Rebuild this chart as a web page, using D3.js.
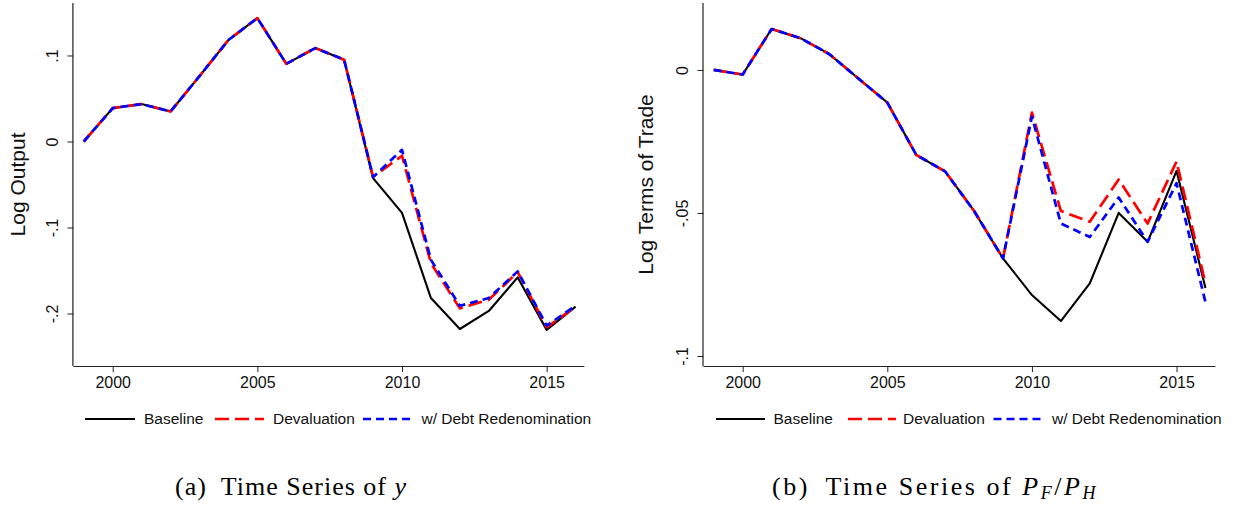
<!DOCTYPE html>
<html>
<head>
<meta charset="utf-8">
<script src="https://cdn.jsdelivr.net/npm/d3@7"></script>
<style>
  html, body { margin: 0; padding: 0; background: #fff; }
  svg { display: block; }
</style>
</head>
<body>
<svg id="chart" width="1236" height="506"></svg>
<script>
// Years on the horizontal axis
const years = [1999, 2000, 2001, 2002, 2003, 2004, 2005, 2006, 2007, 2008,
               2009, 2010, 2011, 2012, 2013, 2014, 2015, 2016];

// Panel (a): log output
const outputBaseline = [0, 0.0388, 0.0435, 0.0349, 0.076, 0.118, 0.1435, 0.0903, 0.1086, 0.095,
                        -0.0426, -0.0830, -0.182, -0.218, -0.197, -0.158, -0.219, -0.192];
const outputDevaluation = [0, 0.0388, 0.0435, 0.0349, 0.076, 0.118, 0.1435, 0.0903, 0.1086, 0.095,
                           -0.0410, -0.0166, -0.1415, -0.194, -0.184, -0.152, -0.216, -0.192];
const outputRedenomination = [0, 0.0388, 0.0435, 0.0349, 0.076, 0.118, 0.1435, 0.0903, 0.1086, 0.095,
                              -0.0414, -0.0097, -0.1376, -0.191, -0.182, -0.151, -0.214, -0.191];

// Panel (b): log terms of trade
const totBaseline = [0, -0.0016, 0.0143, 0.0111, 0.0055, -0.0030, -0.0114, -0.0297, -0.0355, -0.0493,
                     -0.0659, -0.0787, -0.0878, -0.0746, -0.0500, -0.0601, -0.0353, -0.0762];
const totDevaluation = [0, -0.0016, 0.0143, 0.0111, 0.0055, -0.0030, -0.0114, -0.0297, -0.0355, -0.0493,
                        -0.0659, -0.0149, -0.0493, -0.0531, -0.0383, -0.0537, -0.0320, -0.0746];
const totRedenomination = [0, -0.0016, 0.0143, 0.0111, 0.0055, -0.0030, -0.0114, -0.0297, -0.0355, -0.0493,
                           -0.0659, -0.0163, -0.0537, -0.0584, -0.0446, -0.0601, -0.0396, -0.0812];

// Tick values and legend text
const yearTicks = [2000, 2005, 2010, 2015];
const outputTicks = [0.1, 0, -0.1, -0.2];
const totTicks = [0, -0.05, -0.1];
const seriesNames = ["Baseline", "Devaluation", "w/ Debt Redenomination"];

const styles = [
  { color: "#000000", width: 2.1, dash: null },
  { color: "#ff0000", width: 2.7, dash: "14,6" },
  { color: "#0000ff", width: 2.7, dash: "8,5" }
];

const svg = d3.select("#chart");
const font = '"Liberation Sans", Arial, sans-serif';
const serif = '"Liberation Serif", "Times New Roman", serif';

// Stata-style number labels: ".1", "-.05", "0"
function stataFmt(v) {
  if (Math.abs(v) < 1e-12) return "0";
  const s = String(+v.toFixed(4));
  return s.replace(/^(-?)0\./, "$1.");
}

function drawPanel(cfg) {
  const g = svg.append("g");
  const x = d3.scaleLinear().domain(cfg.xDomain).range([cfg.left, cfg.right]);
  const y = d3.scaleLinear().domain(cfg.yDomain).range([cfg.bottom, cfg.top]);

  // x axis
  const xAxis = d3.axisBottom(x).tickValues(yearTicks).tickFormat(d3.format("d"))
    .tickSize(6).tickPadding(5);
  const gx = g.append("g").attr("transform", `translate(0,${cfg.bottom})`).call(xAxis);
  gx.select(".domain").attr("d", `M${cfg.left},0.5H${cfg.right}`)
    .attr("stroke", "#222").attr("stroke-width", 1.2);
  gx.selectAll(".tick line").attr("stroke", "#222").attr("stroke-width", 1);
  gx.selectAll(".tick text").attr("font-size", 16).attr("fill", "#111")
    .attr("font-family", font).attr("dy", null).attr("y", 22);

  // y axis, labels rotated to read upward
  const yAxis = d3.axisLeft(y).tickValues(cfg.yTicks).tickFormat(stataFmt)
    .tickSize(6).tickPadding(4);
  const gy = g.append("g").attr("transform", `translate(${cfg.left},0)`).call(yAxis);
  gy.select(".domain").attr("d", `M-0.5,${cfg.top}V${cfg.bottom}`)
    .attr("stroke", "#222").attr("stroke-width", 1.2);
  gy.selectAll(".tick line").attr("stroke", "#222").attr("stroke-width", 1);
  gy.selectAll(".tick text")
    .attr("font-size", 16).attr("fill", "#111").attr("font-family", font)
    .attr("x", null).attr("dy", null)
    .attr("text-anchor", "middle")
    .attr("transform", "translate(-15.5,0) rotate(-90)");

  // y axis title
  g.append("text")
    .attr("transform", `translate(${cfg.titleX},${(cfg.top + cfg.bottom) / 2}) rotate(-90)`)
    .attr("text-anchor", "middle")
    .attr("font-family", font).attr("font-size", 21).attr("fill", "#111")
    .text(cfg.yTitle);

  // series lines
  const line = d3.line().x((d, i) => x(years[i])).y(d => y(d));
  cfg.series.forEach((vals, k) => {
    const s = styles[k];
    g.append("path").datum(vals)
      .attr("d", line)
      .attr("fill", "none")
      .attr("stroke", s.color)
      .attr("stroke-width", s.width)
      .attr("stroke-linejoin", "round")
      .attr("stroke-dasharray", s.dash);
  });

  // legend
  const lg = g.append("g").attr("transform", `translate(0,${cfg.legendY})`);
  cfg.legendPos.forEach((p, k) => {
    const s = styles[k];
    lg.append("line")
      .attr("x1", p[0]).attr("x2", p[1]).attr("y1", 0).attr("y2", 0)
      .attr("stroke", s.color).attr("stroke-width", s.width)
      .attr("stroke-dasharray", s.dash);
    lg.append("text")
      .attr("x", p[2]).attr("y", 0).attr("dy", "0.35em")
      .attr("font-family", font).attr("font-size", 15.5).attr("fill", "#111")
      .text(seriesNames[k]);
  });

  // caption below the panel, spaced out to its set width
  const cap = g.append("text")
    .attr("x", cfg.captionX).attr("y", 495)
    .attr("text-anchor", "middle")
    .attr("font-family", serif)
    .attr("font-size", 26).attr("fill", "#000");
  cfg.caption(cap);
  const node = cap.node();
  const w = node.getComputedTextLength();
  const n = node.getNumberOfChars();
  if (w < cfg.captionWidth && n > 1) {
    cap.attr("letter-spacing", ((cfg.captionWidth - w) / n).toFixed(2));
  }
}

drawPanel({
  left: 73.4, right: 584.4, top: 3, bottom: 366,
  xDomain: [1998.641, 2016.305],
  yDomain: [-0.261, 0.161],
  yTicks: outputTicks,
  yTitle: "Log Output",
  titleX: 25.4,
  series: [outputBaseline, outputDevaluation, outputRedenomination],
  legendY: 419,
  legendPos: [[85, 135, 144], [215, 264, 273], [363, 413, 421.5]],
  captionX: 291,
  captionWidth: 232,
  caption: t => {
    t.append("tspan").text("(a)\u2002Time Series of ");
    t.append("tspan").attr("font-style", "italic").text("y");
  }
});

drawPanel({
  left: 703.5, right: 1215.3, top: 3, bottom: 366,
  xDomain: [1998.645, 2016.34],
  yDomain: [-0.1035, 0.0234],
  yTicks: totTicks,
  yTitle: "Log Terms of Trade",
  titleX: 653,
  series: [totBaseline, totDevaluation, totRedenomination],
  legendY: 419,
  legendPos: [[716, 765, 773.5], [848, 896, 903], [993.5, 1041.5, 1052]],
  captionX: 935,
  captionWidth: 326,
  caption: t => {
    t.append("tspan").text("(b)\u2002Time Series of ");
    t.append("tspan").attr("font-style", "italic").text("P");
    t.append("tspan").attr("font-style", "italic").attr("font-size", 18).attr("dy", 4).text("F");
    t.append("tspan").attr("dy", -4).text("/");
    t.append("tspan").attr("font-style", "italic").text("P");
    t.append("tspan").attr("font-style", "italic").attr("font-size", 18).attr("dy", 4).text("H");
  }
});
</script>
</body>
</html>
